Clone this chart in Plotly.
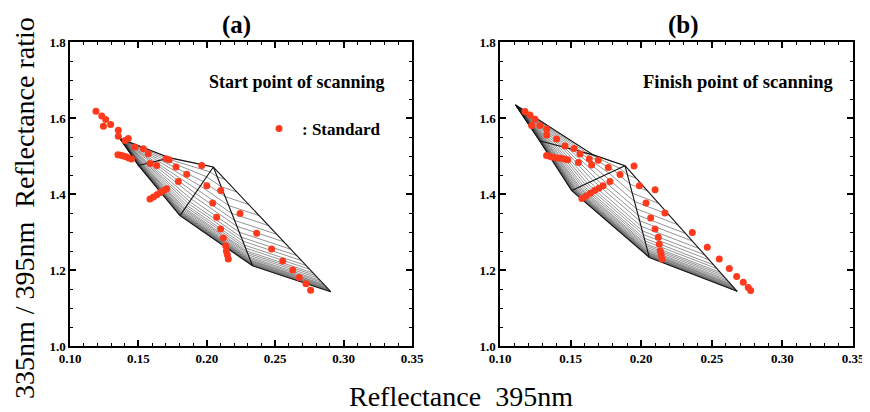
import plotly.graph_objects as go

# ---------------- data ----------------
# Mesh vertices (x = reflectance 395nm, y = ratio 335/395) for each panel
# order: A (top-left), Z (top edge bend), Y (left edge), B (peak), X (left bend), D (bottom), C (right tip)
MESH_A_X = [0.1365, 0.1731, 0.1500, 0.2048, 0.1804, 0.2335, 0.2906]
MESH_A_Y = [1.546, 1.495, 1.475, 1.471, 1.343, 1.211, 1.143]
MESH_B_X = [0.1111, 0.1660, 0.1280, 0.1885, 0.1508, 0.2058, 0.2680]
MESH_B_Y = [1.634, 1.503, 1.540, 1.4745, 1.409, 1.233, 1.144]
# mixing fractions of the drawn mesh curves (dense near the lower edge)
MESH_T = [0.0, 0.1, 0.2, 0.3, 0.39, 0.47, 0.54, 0.6, 0.66, 0.71, 0.75, 0.79,
          0.82, 0.85, 0.87, 0.89, 0.91, 0.925, 0.94, 0.95, 0.96, 0.97, 0.978,
          0.985, 0.992, 1.0]

# "Standard" measured points, panel (a)
STD_A_X = [0.1190, 0.1232, 0.1261, 0.1244, 0.1297, 0.1353, 0.1353, 0.1404, 0.1426,
           0.1475, 0.1536, 0.1572, 0.1634, 0.1702, 0.1725, 0.1775, 0.1853, 0.1963,
           0.1792, 0.2000, 0.2102, 0.2043, 0.2243, 0.2072, 0.2101, 0.2365, 0.2121,
           0.2138, 0.2143, 0.2150, 0.2157, 0.2474, 0.2555, 0.2628, 0.2676, 0.2725,
           0.2759, 0.1350, 0.1370, 0.1390, 0.1410, 0.1430, 0.1450, 0.1585, 0.1610,
           0.1635, 0.1660, 0.1685, 0.1707, 0.1585]
STD_A_Y = [1.618, 1.605, 1.596, 1.578, 1.583, 1.568, 1.552, 1.541, 1.546,
           1.524, 1.519, 1.506, 1.475, 1.493, 1.490, 1.471, 1.452, 1.475,
           1.433, 1.422, 1.409, 1.376, 1.349, 1.339, 1.308, 1.297, 1.284,
           1.264, 1.250, 1.240, 1.229, 1.255, 1.224, 1.200, 1.180, 1.164,
           1.147, 1.503, 1.502, 1.500, 1.498, 1.495, 1.492, 1.387, 1.392,
           1.398, 1.404, 1.409, 1.414, 1.480]

# "Standard" measured points, panel (b)
STD_B_X = [0.1177, 0.1212, 0.1248, 0.1224, 0.1283, 0.1331, 0.1331, 0.1401, 0.1460,
           0.1524, 0.1567, 0.1632, 0.1696, 0.1555, 0.1649, 0.1767, 0.1850, 0.1949,
           0.1779, 0.1987, 0.2098, 0.2034, 0.2168, 0.2067, 0.2098, 0.2362, 0.2121,
           0.2128, 0.2135, 0.2142, 0.2147, 0.2468, 0.2553, 0.2624, 0.2676, 0.2723,
           0.2758, 0.2775, 0.1330, 0.1355, 0.1380, 0.1405, 0.1430, 0.1455, 0.1480,
           0.1580, 0.1610, 0.1640, 0.1670, 0.1700, 0.1730]
STD_B_Y = [1.617, 1.608, 1.597, 1.580, 1.580, 1.571, 1.555, 1.545, 1.526,
           1.520, 1.505, 1.492, 1.489, 1.483, 1.476, 1.470, 1.451, 1.474,
           1.433, 1.422, 1.411, 1.376, 1.350, 1.337, 1.308, 1.299, 1.286,
           1.268, 1.250, 1.240, 1.229, 1.260, 1.229, 1.204, 1.183, 1.168,
           1.154, 1.146, 1.501, 1.499, 1.497, 1.495, 1.494, 1.492, 1.490,
           1.388, 1.395, 1.402, 1.409, 1.415, 1.422]

X_TICKS = [0.10, 0.15, 0.20, 0.25, 0.30, 0.35]
Y_TICKS = [1.0, 1.2, 1.4, 1.6, 1.8]
PANEL_TITLES = ["(a)", "(b)"]
PANEL_NOTES = ["Start point of scanning", "Finish point of scanning"]
X_TITLE = "Reflectance  395nm"
Y_TITLE = "335nm / 395nm  Reflectance ratio"
LEGEND_TEXT = ": Standard"

# ---------------- figure ----------------
SERIF = "Liberation Serif"
RED = "#ff3a1c"
W, H = 870, 412
OFF = 8  # page body margin: figure is drawn 8px right/down in the window
fig = go.Figure()


def mix(p, q, t):
    return (1 - t) * p + t * q


def mesh_traces(vx, vy, xa, ya):
    A, Z, Y, B, X, D, C = range(7)
    thin_x, thin_y = [], []
    for t in MESH_T:
        pts = [(vx[A], vy[A]),
               (mix(vx[Z], vx[Y], t), mix(vy[Z], vy[Y], t)),
               (mix(vx[B], vx[X], t), mix(vy[B], vy[X], t)),
               (mix(vx[B], vx[D], t), mix(vy[B], vy[D], t)),
               (mix(vx[B], vx[C], t), mix(vy[B], vy[C], t))]
        if t == 1.0:
            pts.append((vx[C], vy[C]))
        for px, py in pts:
            thin_x.append(px)
            thin_y.append(py)
        thin_x.append(None)
        thin_y.append(None)
    # darker edges / iso lines
    edges = [(A, Z), (Z, B), (B, C), (C, D), (D, X), (X, Y), (Y, A), (Z, Y), (B, X), (B, D)]
    ex, ey = [], []
    for i, j in edges:
        ex += [vx[i], vx[j], None]
        ey += [vy[i], vy[j], None]
    return [
        go.Scatter(x=thin_x, y=thin_y, mode="lines", xaxis=xa, yaxis=ya,
                   line=dict(color="rgba(30,30,30,0.8)", width=0.6),
                   showlegend=False, hoverinfo="skip"),
        go.Scatter(x=ex, y=ey, mode="lines", xaxis=xa, yaxis=ya,
                   line=dict(color="#111111", width=1.1),
                   showlegend=False, hoverinfo="skip"),
    ]


for tr in mesh_traces(MESH_A_X, MESH_A_Y, "x", "y"):
    fig.add_trace(tr)
for tr in mesh_traces(MESH_B_X, MESH_B_Y, "x2", "y2"):
    fig.add_trace(tr)

fig.add_trace(go.Scatter(x=STD_A_X, y=STD_A_Y, mode="markers", xaxis="x", yaxis="y",
                         marker=dict(color=RED, size=7, line=dict(width=0)),
                         name=LEGEND_TEXT, showlegend=True))
fig.add_trace(go.Scatter(x=STD_B_X, y=STD_B_Y, mode="markers", xaxis="x2", yaxis="y2",
                         marker=dict(color=RED, size=7, line=dict(width=0)),
                         name=LEGEND_TEXT, showlegend=False))

tickfont = dict(family=SERIF, size=13, color="black")


def px_x(p):
    return (p - OFF) / W


def px_y(p):
    return 1 - (p - OFF) / H


def xaxis(domain, anchor):
    return dict(domain=domain, anchor=anchor, range=[0.10, 0.35], tickvals=X_TICKS,
                ticktext=["<b>%.2f</b>" % v for v in X_TICKS],
                ticks="inside", ticklen=6, tickwidth=1.5, automargin=False,
                tickcolor="black", showline=True, linewidth=1.5, linecolor="black",
                mirror="ticks", showgrid=False, zeroline=False, tickfont=tickfont,
                minor=dict(dtick=0.01, ticks="inside", ticklen=3, tickwidth=1,
                           tickcolor="black"))


def yaxis(domain, anchor):
    return dict(domain=domain, anchor=anchor, range=[1.0, 1.8], tickvals=Y_TICKS,
                ticktext=["<b>%.1f</b>" % v for v in Y_TICKS],
                ticks="inside", ticklen=6, tickwidth=1.5, automargin=False,
                tickcolor="black", showline=True, linewidth=1.5, linecolor="black",
                mirror="ticks", showgrid=False, zeroline=False, tickfont=tickfont,
                minor=dict(dtick=0.05, ticks="inside", ticklen=3, tickwidth=1,
                           tickcolor="black"))


ydom = [px_y(346), px_y(42)]
fig.update_layout(
    width=W, height=H, margin=dict(l=0, r=0, t=0, b=0),
    paper_bgcolor="white", plot_bgcolor="white",
    xaxis=xaxis([px_x(70), px_x(412)], "y"),
    yaxis=yaxis(ydom, "x"),
    xaxis2=xaxis([px_x(500), px_x(853)], "y2"),
    yaxis2=yaxis(ydom, "x2"),
    showlegend=True,
    legend=dict(x=px_x(256), y=px_y(129), xanchor="left", yanchor="middle",
                bgcolor="rgba(0,0,0,0)", borderwidth=0, itemwidth=36,
                font=dict(family=SERIF, size=17, color="black", weight="bold")),
)


def note(text, x, y, size, bold=True, angle=0):
    f = dict(family=SERIF, size=size, color="black")
    if bold:
        f["weight"] = "bold"
    return dict(text=text, x=px_x(x), y=px_y(y), xref="paper", yref="paper",
                xanchor="center", yanchor="middle", textangle=angle,
                showarrow=False, font=f)


ann = [
    note(PANEL_TITLES[0], 236, 25, 25),
    note(PANEL_TITLES[1], 683, 25, 25),
    note(PANEL_NOTES[0], 297, 82, 18),
    note(PANEL_NOTES[1], 738, 82, 18.5),
    note(X_TITLE, 461, 396, 28, bold=False),
    note(Y_TITLE, 24, 208, 28, bold=False, angle=-90),
]
fig.update_layout(annotations=ann)

fig.write_html("out.html")
